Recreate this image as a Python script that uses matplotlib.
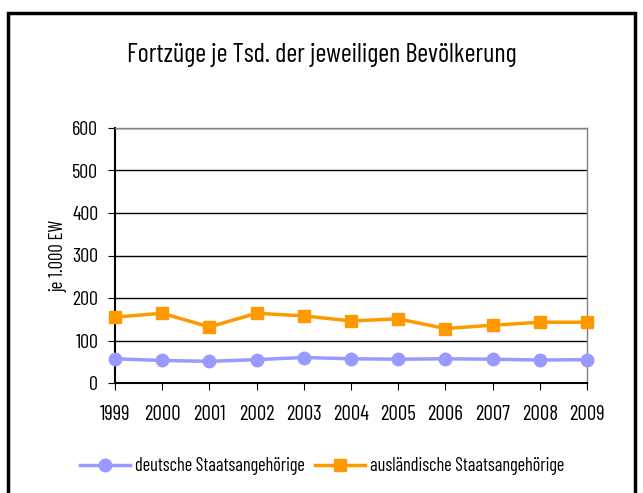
import matplotlib.pyplot as plt
from matplotlib.patches import Rectangle

years = [1999, 2000, 2001, 2002, 2003, 2004, 2005, 2006, 2007, 2008, 2009]
deutsche = [57, 53, 51, 55, 60, 57, 56, 57, 56, 54, 55]
auslaendische = [155, 164, 132, 164, 158, 146, 151, 128, 136, 143, 143]
yticks = [0, 100, 200, 300, 400, 500, 600]

plt.rcParams['font.family'] = ['Barlow Condensed', 'DejaVu Sans']

fig = plt.figure(figsize=(6.43, 4.93), dpi=100)
ax = fig.add_axes([115 / 643, 1 - 383 / 493, (587 - 115) / 643, (383 - 128) / 493])

# outer frame
fig.patches.append(Rectangle((8 / 643, -0.02), 627 / 643, 1 - 13 / 493 + 0.02,
                             transform=fig.transFigure, fill=False,
                             edgecolor='black', linewidth=2.5))

ax.plot(years, deutsche, color='#9999FF', lw=2.5, marker='o', ms=9,
        label='deutsche Staatsangehörige', clip_on=False, zorder=3)
ax.plot(years, auslaendische, color='#FF9900', lw=2.5, marker='s', ms=9,
        label='ausländische Staatsangehörige', clip_on=False, zorder=3)

ax.set_xlim(1999, 2009)
ax.set_ylim(0, 600)
ax.set_xticks(years)
ax.set_yticks(yticks)
ax.tick_params(axis='both', length=5, direction='out', color='black')
ax.tick_params(axis='x', labelsize=15, pad=11)
ax.tick_params(axis='y', labelsize=14.5, pad=7)
ax.grid(axis='y', color='black', lw=1)
ax.set_axisbelow(True)

for side in ['top', 'right']:
    ax.spines[side].set_color('#808080')
    ax.spines[side].set_linewidth(1)
ax.spines['left'].set_linewidth(1.5)
ax.spines['bottom'].set_linewidth(1.5)

ax.set_ylabel('je 1.000 EW', fontsize=13.5)
ax.yaxis.set_label_coords(-0.1, 0.5)
fig.text(0.5, 1 - 55 / 493, 'Fortzüge je Tsd. der jeweiligen Bevölkerung',
         ha='center', va='center', fontsize=19)

fig.legend(loc='center', bbox_to_anchor=(322 / 643, 1 - 466 / 493), ncol=2,
           frameon=False, fontsize=13.2, handlelength=2.7, columnspacing=0.6,
           handletextpad=0.27)

fig.savefig('out.png', dpi=100)
